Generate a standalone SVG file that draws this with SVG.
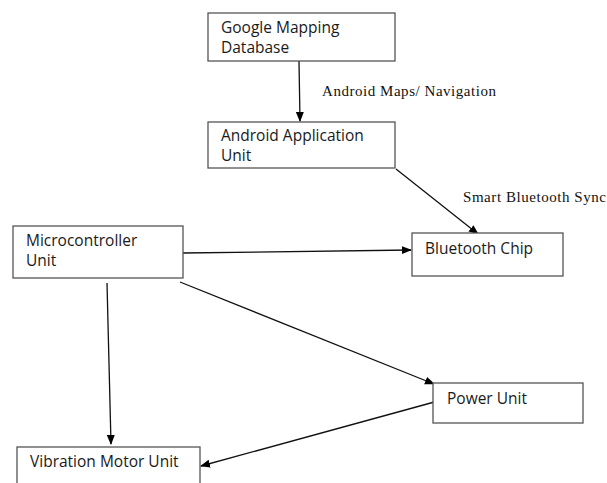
<svg xmlns="http://www.w3.org/2000/svg" width="607" height="483" viewBox="0 0 607 483">
<defs>
<marker id="ah" markerWidth="10" markerHeight="10" refX="9" refY="5" orient="auto" markerUnits="userSpaceOnUse">
<path d="M0,1 L10,5 L0,9 Z" fill="#000"/>
</marker>
<style>
.box{fill:#fff;stroke:#555;stroke-width:1.3}
.t{font-family:"Open Sans","Liberation Sans",sans-serif;font-size:15.5px;fill:#1a1a1a}
.lbl{font-family:"Liberation Serif",serif;font-size:15px;fill:#111}
.c{stroke:#111;stroke-width:1.3;fill:none;marker-end:url(#ah)}
</style>
</defs>
<rect width="607" height="483" fill="#fff"/>
<g id="connectors">
<line class="c" x1="299" y1="61" x2="300" y2="121"/>
<line class="c" x1="396" y1="169" x2="478" y2="234"/>
<line class="c" x1="183" y1="253" x2="411" y2="250"/>
<line class="c" x1="180" y1="282" x2="434" y2="384"/>
<line class="c" x1="107" y1="283" x2="111" y2="444"/>
<line class="c" x1="438" y1="401" x2="201" y2="466"/>
</g>
<g id="google">
<rect class="box" x="208" y="13" width="187" height="48"/>
<text class="t" x="221" y="33">Google Mapping</text>
<text class="t" x="221" y="53">Database</text>
</g>
<g id="android">
<rect class="box" x="208" y="122" width="187" height="46"/>
<text class="t" x="221" y="141">Android Application</text>
<text class="t" x="221" y="161">Unit</text>
</g>
<g id="bluetooth">
<rect class="box" x="412" y="233" width="151" height="43"/>
<text class="t" x="425" y="254">Bluetooth Chip</text>
</g>
<g id="micro">
<rect class="box" x="13" y="226" width="170" height="52"/>
<text class="t" x="26" y="246">Microcontroller</text>
<text class="t" x="26" y="266">Unit</text>
</g>
<g id="power">
<rect class="box" x="433" y="383" width="150" height="40"/>
<text class="t" x="447" y="404">Power Unit</text>
</g>
<g id="vibration">
<rect class="box" x="17" y="447" width="183" height="45"/>
<text class="t" x="30" y="467">Vibration Motor Unit</text>
</g>
<g id="labels">
<text class="lbl" x="322" y="96" textLength="174">Android Maps/ Navigation</text>
<text class="lbl" x="463" y="202" textLength="143">Smart Bluetooth Sync</text>
</g>
</svg>
